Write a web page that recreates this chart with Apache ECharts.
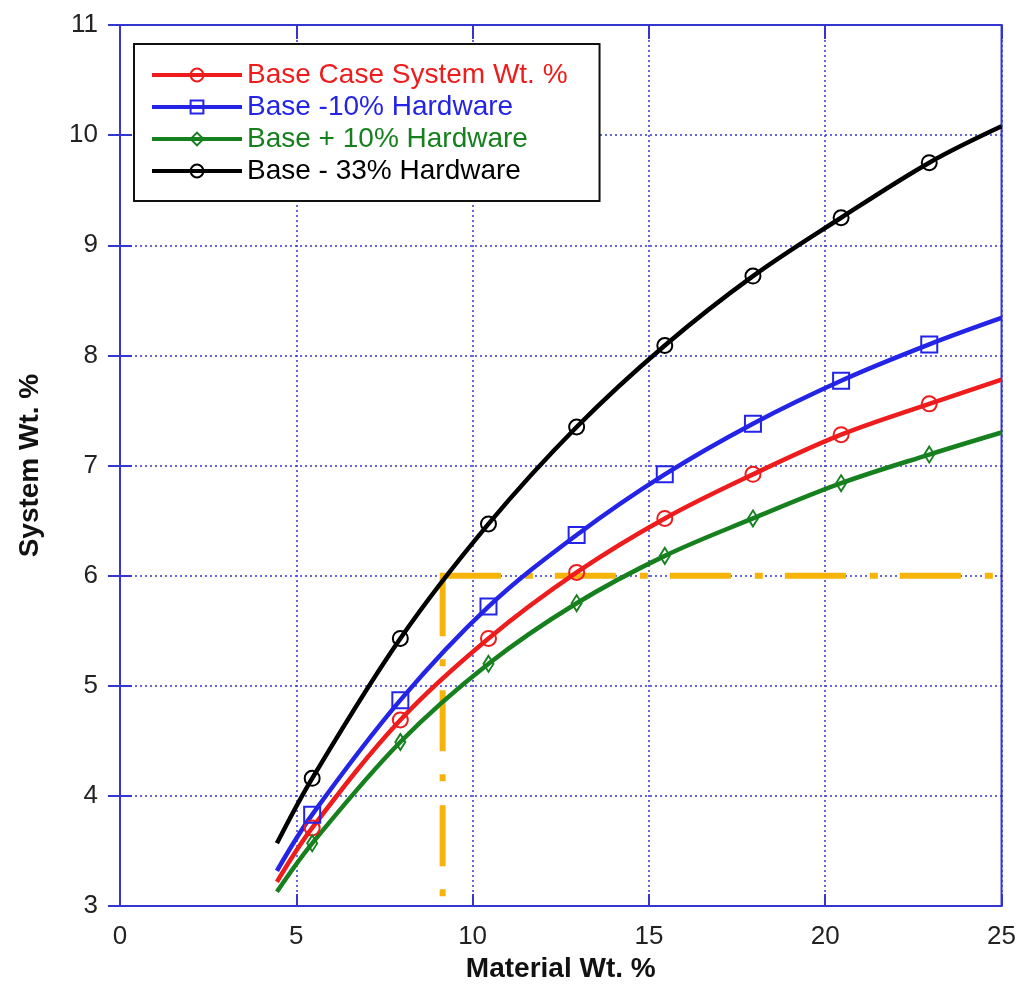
<!DOCTYPE html>
<html>
<head>
<meta charset="utf-8">
<script src="https://cdn.jsdelivr.net/npm/echarts@6/dist/echarts.min.js"></script>
<style>
  html, body { margin: 0; padding: 0; background: #fff; overflow: hidden; }
  #myChart { width: 1019px; height: 988px; }
</style>
</head>
<body>
<div id="myChart"></div>
<script>
  // x values of the curves (first and last point carry no marker)
  var materialWt = [4.45, 5.45, 7.95, 10.45, 12.95, 15.45, 17.95, 20.45, 22.95, 25];
  var baseCase = [3.22, 3.71, 4.69, 5.43, 6.03, 6.52, 6.92, 7.28, 7.56, 7.78];
  var minus10 = [3.32, 3.83, 4.87, 5.72, 6.37, 6.92, 7.38, 7.77, 8.10, 8.34];
  var plus10 = [3.13, 3.57, 4.49, 5.20, 5.75, 6.18, 6.52, 6.84, 7.10, 7.30];
  var minus33 = [3.57, 4.16, 5.43, 6.47, 7.35, 8.09, 8.72, 9.25, 9.75, 10.08];
  // dash-dot guide lines at 6 % system weight
  var guideVX = [9.15, 9.15];
  var guideVY = [3.09, 5.98];
  var guideHX = [9.07, 24.8];
  var guideHY = [6.0, 6.0];

  var names = ['Base Case System Wt. %', 'Base -10% Hardware', 'Base + 10% Hardware', 'Base - 33% Hardware'];
  var colors = ['#ee1c1c', '#2424e6', '#16801e', '#000000'];
  var axisBlue = '#3535d2';
  var orange = '#f6b40a';

  function pairs(xs, ys) {
    return xs.map(function (x, i) {
      var p = { value: [x, ys[i]] };
      if (i === 0 || i === xs.length - 1) p.symbol = 'none'; //ends have no marker
      return p;
    });
  }

  function curve(name, ys, color, symbol, size) {
    return {
      name: name,
      type: 'line',
      smooth: 0.35,
      data: pairs(materialWt, ys),
      symbol: symbol,
      symbolSize: size,
      showAllSymbol: true,
      lineStyle: { color: color, width: 4.5 },
      itemStyle: { color: 'rgba(255,255,255,0)', borderColor: color, borderWidth: 2 },
      z: 3
    };
  }

  function guide(name, xs, ys, dash) {
    return {
      name: name,
      type: 'line',
      data: xs.map(function (x, i) { return [x, ys[i]]; }),
      symbol: 'none',
      lineStyle: { color: orange, width: 6, type: dash, cap: 'butt' },
      z: 2
    };
  }

  var myChart = echarts.init(document.getElementById('myChart'));

  var tickFont = { fontFamily: 'Liberation Sans', fontSize: 26, color: '#222' };
  var nameFont = { fontFamily: 'Liberation Sans', fontSize: 28, fontWeight: 'bold', color: '#111' };

  var option = {
    animation: false,
    backgroundColor: '#fff',
    grid: {
      left: 120, right: 16, top: 25, bottom: 73,
      show: true, borderColor: axisBlue, borderWidth: 2
    },
    legend: {
      left: 134, top: 44,
      orient: 'vertical',
      backgroundColor: '#fff',
      borderColor: '#111',
      borderWidth: 2,
      padding: [17, 32, 16, 16],
      itemWidth: 90,
      itemHeight: 16,
      itemGap: 4,
      lineStyle: { width: 4 },
      textStyle: { fontFamily: 'Liberation Sans', fontSize: 28 },
      data: names.map(function (n, i) {
        return { name: n, textStyle: { color: colors[i] } };
      })
    },
    xAxis: [{
      type: 'value', min: 0, max: 25, interval: 5,
      name: 'Material Wt. %', nameLocation: 'middle', nameGap: 44,
      nameTextStyle: nameFont,
      axisLine: { lineStyle: { color: axisBlue, width: 2 } },
      axisTick: { inside: true, length: 12, lineStyle: { color: axisBlue, width: 2 } },
      axisLabel: Object.assign({ margin: 18 }, tickFont),
      splitLine: { show: true, lineStyle: { color: axisBlue, type: [2, 3], width: 1.5 } }
    }, {
      type: 'value', min: 0, max: 25, interval: 5, position: 'top',
      axisLine: { lineStyle: { color: axisBlue, width: 2 } },
      axisTick: { inside: true, length: 14, lineStyle: { color: axisBlue, width: 2 } },
      axisLabel: { show: false },
      splitLine: { show: false }
    }],
    yAxis: [{
      type: 'value', min: 3, max: 11, interval: 1,
      name: 'System Wt. %', nameLocation: 'middle', nameGap: 76,
      nameTextStyle: nameFont,
      axisLine: { show: true, lineStyle: { color: axisBlue, width: 2 } },
      axisTick: { show: true, inside: true, length: 12, lineStyle: { color: axisBlue, width: 2 } },
      axisLabel: Object.assign({ margin: 22 }, tickFont),
      splitLine: { show: true, lineStyle: { color: axisBlue, type: [2, 3], width: 1.5 } }
    }, {
      type: 'value', min: 3, max: 11, interval: 1, position: 'right',
      axisLine: { show: true, lineStyle: { color: axisBlue, width: 2 } },
      axisTick: { show: true, inside: true, length: 12, lineStyle: { color: axisBlue, width: 2 } },
      axisLabel: { show: false },
      splitLine: { show: false }
    }],
    series: [
      curve(names[0], baseCase, colors[0], 'circle', 15),
      curve(names[1], minus10, colors[1], 'rect', 16),
      curve(names[2], plus10, colors[2], 'diamond', [10, 16]),
      curve(names[3], minus33, colors[3], 'circle', 15),
      guide('guideV', guideVX, guideVY, [7, 23, 61, 24]),
      guide('guideH', guideHX, guideHY, [61, 24, 8, 22])
    ]
  };
  myChart.setOption(option);
</script>
</body>
</html>
